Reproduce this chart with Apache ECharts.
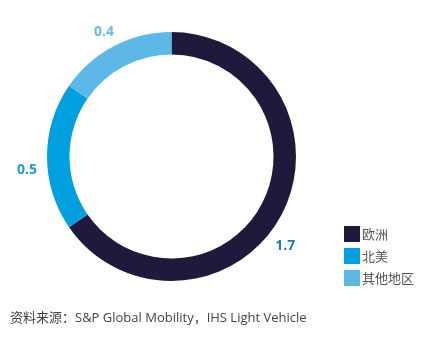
<!DOCTYPE html>
<html><head><meta charset="utf-8">
<script src="https://cdn.jsdelivr.net/npm/echarts@6/dist/echarts.min.js"></script>
<style>html,body{margin:0;padding:0;background:#fff}#c{width:432px;height:343px}</style>
</head><body><div id="c"></div>
<script>
const categories = ['欧洲', '北美', '其他地区'];
const values = [1.7, 0.5, 0.4];
const colors = ['#1E1A3C', '#00A0E0', '#5DB8E8'];
const labelColors = ['#1F7AB8', '#1A9CD8', '#66BCE8'];
const labelOffsets = [[-22, 26], [7, 14], [11, -4]];
const source = '资料来源：S&P Global Mobility，IHS Light Vehicle';

const chart = echarts.init(document.getElementById('c'), null, {renderer: 'canvas'});
chart.setOption({
  animation: false,
  title: {
    text: source, left: 5, top: 307,
    textStyle: {fontSize: 13, fontWeight: 'normal', color: '#444', fontFamily: '"Open Sans","Noto Sans CJK SC",sans-serif'}
  },
  legend: {
    orient: 'vertical', left: 339, top: 221,
    itemWidth: 16, itemHeight: 16, itemGap: 6,
    icon: 'rect',
    textStyle: {fontSize: 13, color: '#555', padding: [0, 0, 0, -3], fontFamily: '"Noto Sans CJK SC",sans-serif'},
    data: categories
  },
  series: [{
    type: 'pie',
    center: [171.5, 156.5],
    radius: [102, 124.5],
    startAngle: 90,
    clockwise: true,
    label: {
      show: true, position: 'outside', overflow: 'none',
      fontSize: 14, fontWeight: 'bold', fontFamily: '"Open Sans",sans-serif',
      formatter: p => p.value.toFixed(1)
    },
    labelLine: {show: false, length: 12, length2: 0},
    labelLayout: p => ({dx: labelOffsets[p.dataIndex][0], dy: labelOffsets[p.dataIndex][1]}),
    emphasis: {disabled: true},
    data: categories.map((n, i) => ({
      name: n, value: values[i],
      itemStyle: {color: colors[i]},
      label: {color: labelColors[i]}
    }))
  }]
});
</script></body></html>
